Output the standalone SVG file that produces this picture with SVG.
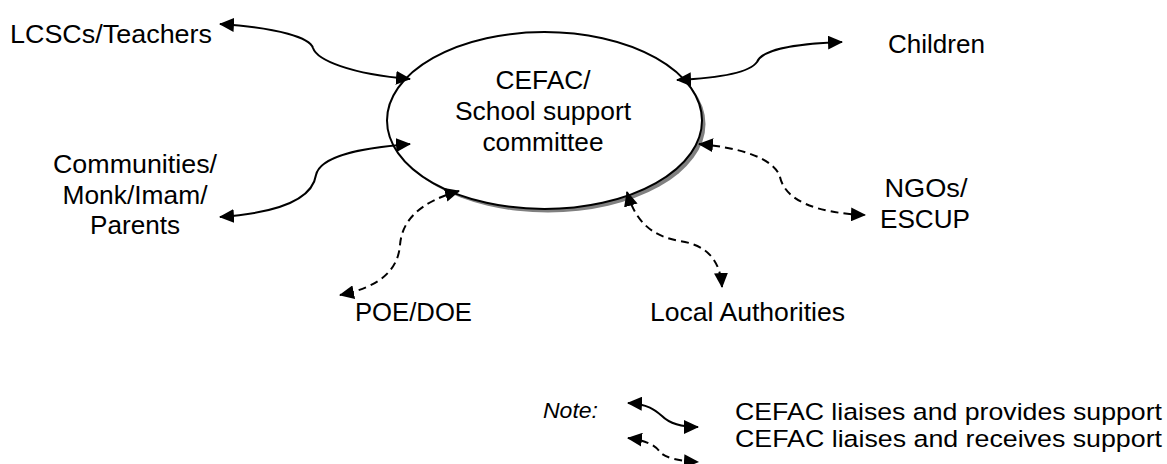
<svg xmlns="http://www.w3.org/2000/svg" width="1167" height="464" viewBox="0 0 1167 464">
<style>
text{font-family:"Liberation Sans",Arial,sans-serif;font-size:26px;fill:#000}
.c{text-anchor:middle}
.lg{font-size:24.5px}
.ln{fill:none;stroke:#000;stroke-width:2}
.d{stroke-dasharray:8 5}
</style>
<defs>
<marker id="ah" viewBox="0 0 15 14" refX="14" refY="7" markerWidth="15" markerHeight="14" markerUnits="userSpaceOnUse" orient="auto-start-reverse">
<path d="M0,0 L15,7 L0,14 z" fill="#000"/>
</marker>
</defs>
<rect width="1167" height="464" fill="#fff"/>
<g id="n-cefac">
<ellipse cx="548" cy="124" rx="157.5" ry="88.5" fill="#808080"/>
<ellipse cx="544.5" cy="120.5" rx="157.5" ry="88.5" fill="#fff" stroke="#000" stroke-width="2"/>
<text class="c" x="543" y="89" textLength="95" lengthAdjust="spacingAndGlyphs">CEFAC/</text>
<text class="c" x="543" y="120" textLength="176" lengthAdjust="spacingAndGlyphs">School support</text>
<text class="c" x="543" y="151" textLength="121" lengthAdjust="spacingAndGlyphs">committee</text>
</g>
<g id="n-lcsc"><text x="10" y="43" textLength="202" lengthAdjust="spacingAndGlyphs">LCSCs/Teachers</text></g>
<g id="n-children"><text x="888" y="53" textLength="97" lengthAdjust="spacingAndGlyphs">Children</text></g>
<g id="n-communities">
<text class="c" x="135" y="173" textLength="164" lengthAdjust="spacingAndGlyphs">Communities/</text>
<text class="c" x="135" y="204" textLength="145" lengthAdjust="spacingAndGlyphs">Monk/Imam/</text>
<text class="c" x="135" y="234" textLength="90" lengthAdjust="spacingAndGlyphs">Parents</text>
</g>
<g id="n-ngos">
<text class="c" x="926" y="197" textLength="83" lengthAdjust="spacingAndGlyphs">NGOs/</text>
<text class="c" x="925" y="228" textLength="90" lengthAdjust="spacingAndGlyphs">ESCUP</text>
</g>
<g id="n-poe"><text x="355" y="321" textLength="117" lengthAdjust="spacingAndGlyphs">POE/DOE</text></g>
<g id="n-local"><text x="650" y="321" textLength="195" lengthAdjust="spacingAndGlyphs">Local Authorities</text></g>
<g id="connectors">
<path class="ln" marker-start="url(#ah)" marker-end="url(#ah)" d="M220 24 C280 28 310 38 313 48 C317 60 350 74 410 79"/>
<path class="ln" marker-start="url(#ah)" marker-end="url(#ah)" d="M410 144 C360 148 320 156 316 175 C313 195 290 212 220 217"/>
<path class="ln" marker-start="url(#ah)" marker-end="url(#ah)" d="M677 80 C720 78 750 72 757 62 C762 50 790 44 842 42"/>
<path class="ln d" marker-start="url(#ah)" marker-end="url(#ah)" d="M699 144 C745 148 775 160 780 177 C785 200 815 213 865 215"/>
<path class="ln d" marker-start="url(#ah)" marker-end="url(#ah)" d="M627 192 C635 220 650 236 680 241 C705 245 720 258 722 287"/>
<path class="ln d" marker-start="url(#ah)" marker-end="url(#ah)" d="M459 191 C420 202 402 220 400 245 C398 270 380 287 340 295"/>
</g>
<g id="legend">
<text x="543" y="418" font-style="italic" style="font-size:22px" textLength="55" lengthAdjust="spacingAndGlyphs">Note:</text>
<path class="ln" marker-start="url(#ah)" marker-end="url(#ah)" d="M628 403 C648 404 655 410 662 416 C668 422 680 427 698 427"/>
<path class="ln d" marker-start="url(#ah)" marker-end="url(#ah)" d="M628 438 C645 440 655 445 660 452 C665 458 680 461 698 462"/>
<text class="lg" x="735" y="420" textLength="427" lengthAdjust="spacingAndGlyphs">CEFAC liaises and provides support</text>
<text class="lg" x="735" y="447" textLength="427" lengthAdjust="spacingAndGlyphs">CEFAC liaises and receives support</text>
</g>
</svg>
